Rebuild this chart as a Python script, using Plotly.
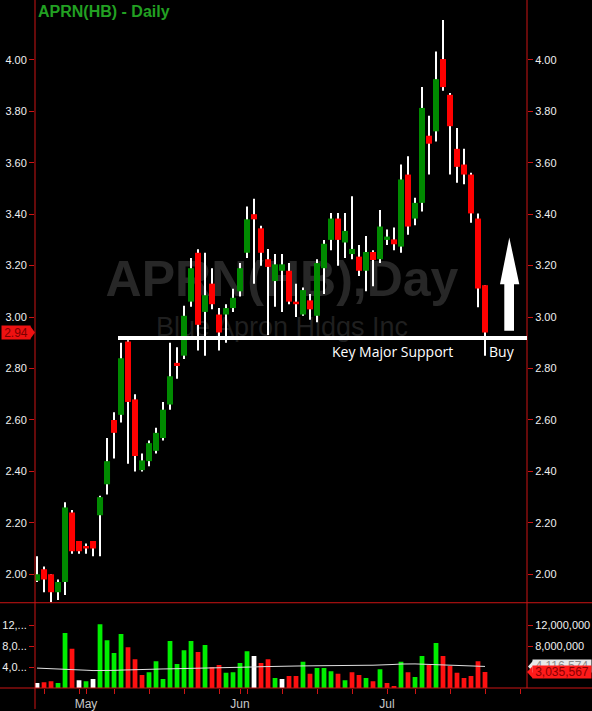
import plotly.graph_objects as go
import pandas as pd

# ---------------- data ----------------
opens = [1.975, 2.02, 2.00, 1.93, 1.97, 2.24, 2.13, 2.11, 2.13, 2.23,
         2.35, 2.60, 2.62, 2.905, 2.68, 2.405, 2.44, 2.48, 2.53, 2.66,
         2.822, 2.85, 3.06, 3.25, 3.02, 3.13, 3.01, 3.01, 3.035, 3.10,
         3.25, 3.40, 3.345, 3.225, 3.14, 3.18, 3.18, 3.06, 3.01, 3.065,
         3.005, 3.19, 3.30, 3.383, 3.29, 3.245, 3.235, 3.18, 3.253, 3.225,
         3.30, 3.302, 3.274, 3.554, 3.383, 3.444, 3.705, 3.722, 4.003, 3.864,
         3.654, 3.593, 3.554, 3.383, 3.124]
highs = [2.07, 2.03, 2.00, 1.98, 2.28, 2.25, 2.13, 2.12, 2.13, 2.305,
         2.53, 2.63, 2.90, 2.91, 2.70, 2.47, 2.52, 2.57, 2.67, 2.90,
         2.883, 3.044, 3.23, 3.264, 3.25, 3.19, 3.035, 3.05, 3.11, 3.21,
         3.43, 3.46, 3.355, 3.265, 3.245, 3.245, 3.21, 3.13, 3.115, 3.09,
         3.225, 3.30, 3.405, 3.405, 3.405, 3.47, 3.28, 3.315, 3.26, 3.416,
         3.34, 3.348, 3.593, 3.625, 3.464, 3.894, 3.783, 4.032, 4.155, 3.871,
         3.735, 3.654, 3.561, 3.403, 3.124]
lows = [1.97, 1.93, 1.89, 1.90, 1.92, 2.08, 2.08, 2.08, 2.07, 2.07,
        2.31, 2.45, 2.59, 2.43, 2.40, 2.40, 2.42, 2.47, 2.52, 2.64,
        2.76, 2.837, 3.04, 2.87, 2.85, 3.03, 2.87, 2.90, 3.02, 3.08,
        3.23, 3.13, 3.20, 2.93, 3.04, 3.02, 3.05, 3.00, 3.005, 2.99,
        2.98, 3.09, 3.26, 3.20, 3.23, 3.225, 3.16, 3.10, 3.12, 3.21,
        3.28, 3.26, 3.25, 3.32, 3.357, 3.41, 3.554, 3.683, 3.88, 3.554,
        3.522, 3.516, 3.367, 3.038, 2.85]
closes = [2.00, 1.98, 1.93, 1.97, 2.26, 2.09, 2.09, 2.10, 2.10, 2.30,
          2.44, 2.55, 2.84, 2.67, 2.46, 2.443, 2.51, 2.55, 2.64, 2.77,
          2.81, 3.005, 3.19, 2.97, 3.085, 3.05, 2.94, 3.035, 3.075, 3.19,
          3.38, 3.38, 3.25, 3.195, 3.205, 3.205, 3.06, 3.05, 3.105, 3.03,
          3.21, 3.285, 3.383, 3.30, 3.335, 3.265, 3.18, 3.253, 3.222, 3.352,
          3.313, 3.283, 3.535, 3.352, 3.444, 3.813, 3.674, 3.925, 3.894, 3.742,
          3.584, 3.554, 3.403, 3.111, 2.94]
volumes_m = [0.95, 1.1, 1.3, 0.95, 10.5, 7.5, 1.5, 1.3, 1.7, 12.2,
             9.1, 6.7, 10.3, 7.8, 5.5, 2.5, 3.0, 5.1, 1.7, 9.0,
             4.6, 7.2, 9.0, 6.9, 8.2, 4.0, 4.4, 2.9, 3.0, 4.8,
             7.0, 6.1, 4.8, 5.5, 1.9, 1.7, 2.3, 2.3, 5.0, 2.7,
             3.8, 3.8, 3.2, 2.7, 1.5, 3.0, 2.5, 1.9, 1.3, 3.6,
             0.95, 0.4, 5.0, 3.0, 2.1, 6.1, 4.4, 8.6, 6.1, 4.2,
             2.9, 1.9, 2.3, 5.1, 3.035567]
vol_ma_m = [3.80, 3.76, 3.72, 3.68, 3.62, 3.55, 3.48, 3.40, 3.33, 3.30,
            3.32, 3.36, 3.42, 3.48, 3.54, 3.58, 3.60, 3.62, 3.64, 3.66,
            3.68, 3.70, 3.72, 3.74, 3.76, 3.78, 3.79, 3.80, 3.85, 3.92,
            3.98, 4.02, 4.07, 4.12, 4.16, 4.18, 4.19, 4.20, 4.22, 4.25,
            4.28, 4.30, 4.31, 4.32, 4.32, 4.33, 4.33, 4.34, 4.35, 4.36,
            4.42, 4.50, 4.58, 4.65, 4.60, 4.55, 4.50, 4.45, 4.40, 4.34,
            4.29, 4.24, 4.19, 4.15, 4.116574]

price_ticks = [2.0, 2.2, 2.4, 2.6, 2.8, 3.0, 3.2, 3.4, 3.6, 3.8, 4.0]
price_tick_labels = ["2.00", "2.20", "2.40", "2.60", "2.80", "3.00",
                     "3.20", "3.40", "3.60", "3.80", "4.00"]
vol_ticks_left = [4e6, 8e6, 12e6]
vol_labels_left = ["4,0...", "8,0...", "12,..."]
vol_ticks_right = [8e6, 12e6]
vol_labels_right = ["8,000,000", "12,000,000"]
month_labels = {"2018-05-01": "May", "2018-06-01": "Jun", "2018-07-02": "Jul"}
holidays = ["2018-05-28", "2018-07-04"]
support_level = 2.919
last_price = 2.94
last_price_text = "2.94"
vol_ma_last = 4.116574e6
vol_ma_text = "4,116,574"
last_vol = 3.035567e6
last_vol_text = "3,035,567"

# ---------------- derived ----------------
days = [d for d in pd.bdate_range("2018-04-20", "2018-07-31")
        if d.strftime("%Y-%m-%d") not in holidays]
day_labels = [d.strftime("%Y-%m-%d") for d in days]
n = len(opens)
dates = day_labels[:n]

tickvals, ticktext = [], []
for i, d in enumerate(days):
    lab = day_labels[i]
    first_of_week = i > 0 and d.isocalendar()[1] != days[i - 1].isocalendar()[1]
    if first_of_week or lab in month_labels:
        tickvals.append(lab)
        ticktext.append(month_labels.get(lab, ""))

GREEN_C, RED_C = "#008a00", "#ff0000"
body_base = [min(o, c) for o, c in zip(opens, closes)]
body_h = [max(abs(c - o), 0.007) for o, c in zip(opens, closes)]
body_col = [GREEN_C if c >= o else RED_C for o, c in zip(opens, closes)]
wick_h = [h - l for h, l in zip(highs, lows)]

vol_col = []
for i, c in enumerate(closes):
    if i == 0 or round(c, 3) == round(closes[i - 1], 3):
        vol_col.append("#ffffff")
    elif c > closes[i - 1]:
        vol_col.append("#00ee00")
    else:
        vol_col.append("#ff1010")
volumes = [v * 1e6 for v in volumes_m]
vol_ma = [v * 1e6 for v in vol_ma_m]

# ---------------- figure ----------------
W, H = 592, 711
ML, MR, MT, MB = 35, 65, 0, 21
PW, PH = W - ML - MR, H - MT - MB
px2x = lambda px: (px - ML) / PW
px2y = lambda py: (PH - (py - MT)) / PH

fig = go.Figure()

# watermark (main price subplot, drawn beneath candles)
fig.add_trace(go.Scatter(x=[dates[35]], y=[3.132], mode="text", text=["APRN(HB),Day"],
                         textfont=dict(size=50, color="#272727", family="Liberation Sans", weight="bold"),
                         hoverinfo="skip", xaxis="x", yaxis="y"))
fig.add_trace(go.Scatter(x=[dates[35]], y=[2.952], mode="text", text=["Blue Apron Hldgs Inc"],
                         textfont=dict(size=27, color="#1f1f1f", family="Liberation Sans"),
                         hoverinfo="skip", xaxis="x", yaxis="y"))

# wicks and bodies on overlay axis
fig.add_trace(go.Bar(x=dates, y=wick_h, base=lows, width=0.15,
                     marker=dict(color="#ffffff", line=dict(width=0)),
                     xaxis="x", yaxis="y3", hoverinfo="skip"))
fig.add_trace(go.Bar(x=dates, y=body_h, base=body_base, width=0.86,
                     marker=dict(color=body_col, line=dict(width=0)),
                     xaxis="x", yaxis="y3", hoverinfo="skip"))

# volume
fig.add_trace(go.Bar(x=dates, y=volumes, width=0.68,
                     marker=dict(color=vol_col, line=dict(width=0)),
                     xaxis="x", yaxis="y2", hoverinfo="skip"))
fig.add_trace(go.Scatter(x=dates, y=vol_ma, mode="lines",
                         line=dict(color="#e0e0e0", width=1),
                         xaxis="x", yaxis="y4", hoverinfo="skip"))

p_top = 4 + 60 / 258
p_bot = 4 - 544 / 258
v_top = 85 / 21 * 4e6
RED_AX = "#cc1414"
tickfont = dict(color="#f0f0f0", size=11, family="Liberation Sans")

common_y = dict(showgrid=False, zeroline=False, showline=False, ticks="outside",
                ticklen=5, tickcolor=RED_AX, tickfont=tickfont, fixedrange=True)

fig.update_layout(
    width=W, height=H, margin=dict(l=ML, r=MR, t=MT, b=MB),
    paper_bgcolor="#000000", plot_bgcolor="#000000",
    showlegend=False, barmode="overlay",
    xaxis=dict(type="category", categoryorder="array", categoryarray=day_labels,
               range=[-0.29, 70], anchor="y2", tickvals=tickvals, ticktext=ticktext,
               ticks="outside", ticklen=5, tickcolor=RED_AX,
               tickfont=dict(color="#c8c8c8", size=12, family="Liberation Sans"),
               showgrid=False, zeroline=False, showline=False, fixedrange=True),
    yaxis=dict(domain=[px2y(604), 1], range=[p_bot, p_top], anchor="x", side="left",
               tickvals=price_ticks, ticktext=price_tick_labels, **common_y),
    yaxis3=dict(range=[p_bot, p_top], overlaying="y", anchor="x", side="right",
                tickvals=price_ticks, ticktext=price_tick_labels, **common_y),
    yaxis2=dict(domain=[0, px2y(605)], range=[0, v_top], anchor="x", side="left",
                tickvals=vol_ticks_left, ticktext=vol_labels_left, **common_y),
    yaxis4=dict(range=[0, v_top], overlaying="y2", anchor="x", side="right",
                tickvals=vol_ticks_right, ticktext=vol_labels_right, **common_y),
)

shapes = []
line_red = dict(color=RED_AX, width=1)
shapes.append(dict(type="line", xref="paper", yref="paper", x0=0, x1=0,
                   y0=px2y(0), y1=px2y(H), line=line_red))
shapes.append(dict(type="line", xref="paper", yref="paper", x0=1, x1=1,
                   y0=px2y(0), y1=px2y(690), line=line_red))
shapes.append(dict(type="line", xref="paper", yref="paper", x0=px2x(0), x1=px2x(W),
                   y0=px2y(604.5), y1=px2y(604.5), line=line_red))
shapes.append(dict(type="line", xref="paper", yref="paper", x0=px2x(0), x1=px2x(W),
                   y0=px2y(690), y1=px2y(690), line=line_red))
# support line
shapes.append(dict(type="line", xref="paper", yref="y", x0=px2x(118), x1=1,
                   y0=support_level, y1=support_level, line=dict(color="#ffffff", width=4)))
# up arrow
sl, sr, hl, hr, tip = px2x(504.3), px2x(514), px2x(500), px2x(519.3), px2x(509.3)
yb, yh, yt = 2.947, 3.128, 3.309
shapes.append(dict(type="path", xref="paper", yref="y",
                   path=f"M{sl},{yb} L{sl},{yh} L{hl},{yh} L{tip},{yt} L{hr},{yh} L{sr},{yh} L{sr},{yb} Z",
                   fillcolor="#ffffff", line=dict(width=0)))
# left price tag pointer
shapes.append(dict(type="path", xref="paper", yref="y",
                   path=f"M{px2x(30)},{last_price + 0.026} L{px2x(35)},{last_price} L{px2x(30)},{last_price - 0.026} Z",
                   fillcolor="#ee1111", line=dict(width=0)))
# right volume tag pointers
shapes.append(dict(type="path", xref="paper", yref="y2",
                   path=f"M{px2x(533)},{vol_ma_last + 1.1e6} L{px2x(528)},{vol_ma_last} L{px2x(533)},{vol_ma_last - 1.1e6} Z",
                   fillcolor="#e8e8e8", line=dict(width=0)))
shapes.append(dict(type="path", xref="paper", yref="y2",
                   path=f"M{px2x(533)},{last_vol + 1.2e6} L{px2x(527)},{last_vol} L{px2x(533)},{last_vol - 1.2e6} Z",
                   fillcolor="#ff1a1a", line=dict(width=0)))
fig.update_layout(shapes=shapes)

ann = []
ann.append(dict(text="<b>APRN(HB) - Daily</b>", xref="paper", yref="paper",
                x=px2x(36), y=px2y(12), xanchor="left", yanchor="middle", showarrow=False,
                font=dict(color="#22a022", size=16, family="Liberation Sans")))
ann.append(dict(text="Key Major Support", xref="paper", yref="y", x=px2x(392), y=2.868,
                xanchor="center", yanchor="middle",
                showarrow=False, font=dict(color="#ffffff", size=14, family="Open Sans")))
ann.append(dict(text="Buy", xref="paper", yref="y", x=px2x(502), y=2.868,
                xanchor="center", yanchor="middle",
                showarrow=False, font=dict(color="#ffffff", size=14, family="Open Sans")))
ann.append(dict(text=last_price_text, xref="paper", yref="y", x=px2x(16), y=last_price,
                xanchor="center", yanchor="middle",
                showarrow=False, bgcolor="#ee1111", width=28, height=13, borderpad=0,
                font=dict(color="#7a0000", size=12, family="Liberation Sans")))
ann.append(dict(text=vol_ma_text, xref="paper", yref="y2", x=px2x(562), y=vol_ma_last,
                xanchor="center", yanchor="middle",
                showarrow=False, bgcolor="#e8e8e8", width=58, height=12, borderpad=0,
                font=dict(color="#8a8a8a", size=12, family="Liberation Sans")))
ann.append(dict(text=last_vol_text, xref="paper", yref="y2", x=px2x(562), y=last_vol,
                xanchor="center", yanchor="middle",
                showarrow=False, bgcolor="#ff1a1a", width=58, height=12, borderpad=0,
                font=dict(color="#8a0000", size=12, family="Liberation Sans")))
fig.update_layout(annotations=ann)

fig.write_html("out.html", config={"displayModeBar": False},
               post_script="document.body.style.margin='0';document.body.style.overflow='hidden';")
